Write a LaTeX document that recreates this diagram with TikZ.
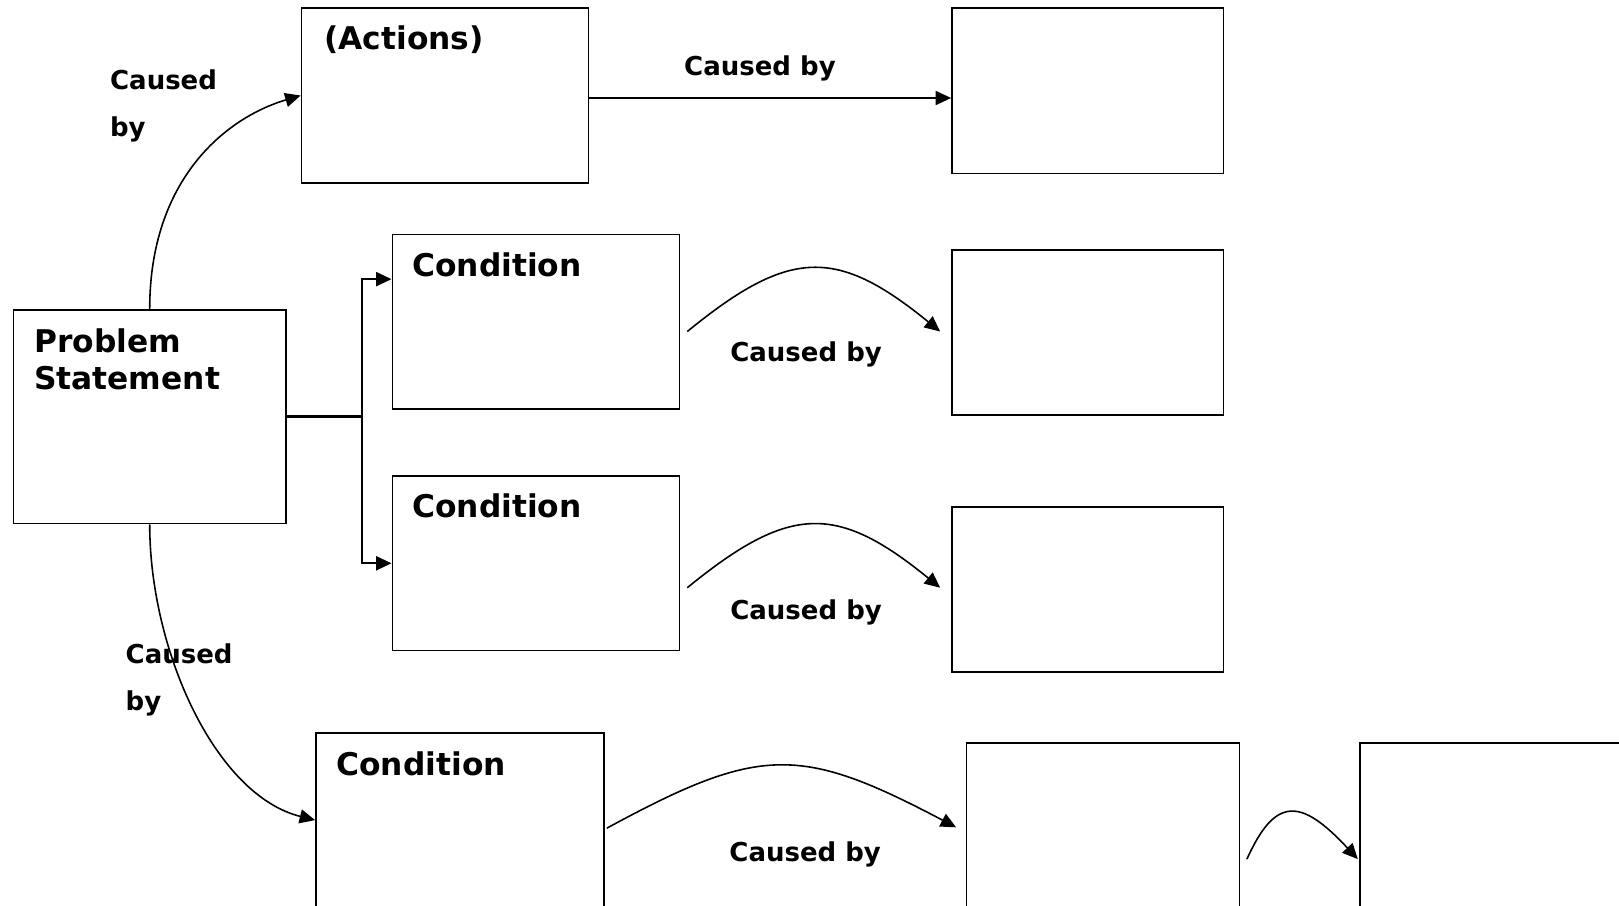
\documentclass[tikz,border=0pt]{standalone}
\usepackage{fontspec}
\setmainfont{DejaVu Sans}
\usetikzlibrary{arrows.meta,fit,calc}
\begin{document}
\begin{tikzpicture}[x=0.1mm,y=-0.1mm,
  box/.style={draw, line width=0.5pt, inner sep=0pt},
  head/.style={anchor=base west, inner sep=0pt, font=\bfseries\fontsize{8.9}{10.5}\selectfont, align=left},
  linklabel/.style={anchor=base west, inner sep=0pt, font=\bfseries\fontsize{7.4}{13.5}\selectfont, align=left},
  arr/.style={line width=0.45pt, -{Triangle[length=4.4pt,width=4pt]}},
  branch/.style={line width=0.6pt}]
\path[use as bounding box, clip] (0,0) rectangle (1619,905);
\fill[white] (0,0) rectangle (1619,905);

% boxes
\node[box, fit={(13.4,309.7) (286,523.5)}] (ps) {};
\node[box, fit={(301.5,8.3) (588.5,182.7)}] (act) {};
\node[box, fit={(952,8.3) (1223.5,173.5)}] (r1) {};
\node[box, fit={(392.4,234.4) (679.4,408.9)}] (c1) {};
\node[box, fit={(952,250) (1223.5,415)}] (r2) {};
\node[box, fit={(392.4,476) (679.4,650.5)}] (c2) {};
\node[box, fit={(952,507) (1223.5,672)}] (r3) {};
\node[box, fit={(316,733) (604,960)}] (c3) {};
\node[box, fit={(966.4,742.7) (1239.4,960)}] (ba) {};
\node[box, fit={(1360,742.7) (1680,960)}] (bb) {};

% box titles (multi-line nodes sit on their last baseline)
\node[head] (tps) at (33.5,389.3) {Problem\\Statement};
\node[head] (tact) at (323.7,49.3) {(Actions)};
\node[head] (tc1) at (411.6,276) {Condition};
\node[head] (tc2) at (411.6,517.3) {Condition};
\node[head] (tc3) at (335.8,775) {Condition};

% connector labels
\node[linklabel] (lup) at (109.4,136.7) {Caused\\by};
\node[linklabel] (ldown) at (125,710.7) {Caused\\by};
\node[linklabel] (ltop) at (683.5,75) {Caused by};
\node[linklabel] (l1) at (729.6,361.7) {Caused by};
\node[linklabel] (l2) at (729.6,619.3) {Caused by};
\node[linklabel] (l3) at (728.7,861.7) {Caused by};

% problem statement to the actions and to the lower condition
\draw[arr] (ps.north) .. controls (149.7,180) and (225,118) .. (act.west);
\draw[arr] (ps.south) .. controls (149.7,650) and (215,795) .. ($(c3.north west)+(0,88)$);

% actions to the top right box
\draw[arr] ($(act.east)+(0,2.5)$) -- ($(act.east -| r1.west)+(0,2.5)$);

% branch to the two conditions
\coordinate (j) at ($(ps.east)+(75,0)$);
\draw[line width=0.8pt] (ps.east) -- (j);
\draw[arr, branch] (j) |- ($(c1.north west)+(0,45.6)$);
\draw[arr, branch] (j) |- (c2.west);

% condition arcs
\draw[arr] ($(c1.east |- r2.west)+(7,-1)$) .. controls (790,247.5) and (837,247.5) .. ($(r2.west)+(-11,-1)$);
\draw[arr] ($(c2.east |- r3.west)+(7,-1.8)$) .. controls (790,503.8) and (837,503.8) .. ($(r3.west)+(-11,-1.8)$);
\draw[arr] ($(c3.north west -| c3.east)+(2,96)$) .. controls (760,745) and (800,745) .. ($(ba.north west)+(-9.4,85.5)$);
\draw[arr] ($(ba.north east)+(6.6,117.3)$) .. controls (1275,797) and (1300,797) .. ($(bb.north west)+(-1.3,117.3)$);
\end{tikzpicture}
\end{document}
